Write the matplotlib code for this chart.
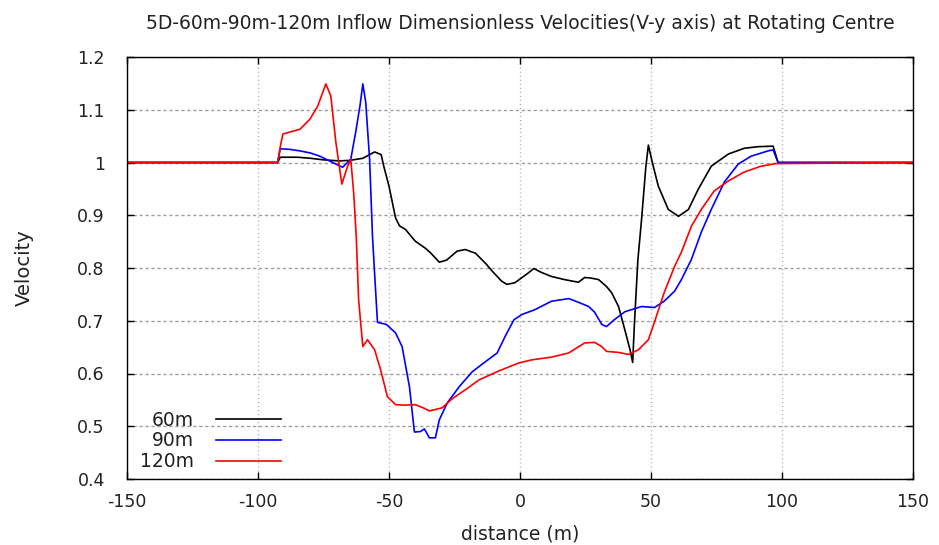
import matplotlib
matplotlib.use("Agg")
import matplotlib.pyplot as plt

# 60 m hub height
x60 = [-150, -92.5, -91.5, -85, -80, -75, -69, -65, -60, -55.5, -53, -52, -50, -47.5,
       -46, -43.7, -40, -36, -34, -30.8, -28, -24, -20.9, -17, -13, -10.6, -7, -5,
       -2, 0.8, 3, 5.3, 8, 12, 17, 22.3, 24.7, 27, 30, 33, 35, 37.6, 40, 42, 43,
       43.7, 45, 46.4, 48, 49, 50.5, 52.8, 56.6, 60.5, 64.3, 68, 73, 79.5, 85.6,
       91, 96.6, 98.5, 150]
v60 = [1.0, 1.0, 1.010, 1.010, 1.008, 1.005, 1.003, 1.004, 1.008, 1.020, 1.015, 0.993,
       0.955, 0.895, 0.880, 0.873, 0.851, 0.837, 0.828, 0.811, 0.815, 0.832, 0.835,
       0.828, 0.808, 0.794, 0.775, 0.769, 0.772, 0.782, 0.790, 0.799, 0.792, 0.784,
       0.778, 0.773, 0.782, 0.781, 0.778, 0.765, 0.753, 0.727, 0.683, 0.645, 0.621,
       0.697, 0.816, 0.892, 0.990, 1.033, 1.000, 0.955, 0.911, 0.898, 0.911, 0.949,
       0.993, 1.016, 1.027, 1.030, 1.031, 1.0, 1.0]

# 90 m hub height
x90 = [-150, -92.5, -91.5, -88, -84, -80, -76.4, -71.5, -67.7, -64.6, -62.7, -61,
       -60, -58.9, -57.4, -56.3, -55.5, -54.4, -51, -47.5, -45, -42.2, -40.3, -38,
       -36.5, -34.6, -32.3, -30.8, -27.8, -23.2, -18.3, -13.3, -8.7, -5.7, -2.3,
       0.8, 5.7, 12, 18.6, 22.3, 26.2, 28.5, 31.2, 33, 36, 40, 46.4, 51.3, 55, 59,
       61.6, 65.4, 69.2, 73, 78, 83.3, 88.2, 94.7, 96.6, 98.5, 150]
v90 = [1.0, 1.0, 1.026, 1.025, 1.022, 1.018, 1.012, 1.000, 0.991, 1.006, 1.058, 1.110,
       1.149, 1.115, 1.006, 0.860, 0.790, 0.697, 0.693, 0.677, 0.651, 0.575, 0.489,
       0.490, 0.495, 0.478, 0.478, 0.512, 0.544, 0.575, 0.603, 0.622, 0.639, 0.670,
       0.702, 0.712, 0.721, 0.737, 0.742, 0.735, 0.727, 0.716, 0.693, 0.689, 0.702,
       0.717, 0.727, 0.725, 0.737, 0.756, 0.778, 0.816, 0.868, 0.911, 0.963, 0.997,
       1.012, 1.022, 1.024, 1.0, 1.0]

# 120 m hub height
x120 = [-150, -92.5, -91.5, -90.5, -84, -80.2, -77.2, -74.1, -72.2, -70.3, -68,
        -65.8, -64.6, -63.5, -62.5, -61.6, -60, -58.2, -55.5, -53.2, -50.6, -47.5,
        -44, -40, -37, -34.6, -29.7, -25.9, -20.9, -15.6, -8, -0.4, 4.6, 12, 18.6,
        24.7, 28.5, 31.2, 33, 37.6, 41.4, 45.2, 49, 51.3, 55, 59, 61.6, 65.4, 69.2,
        74.1, 79.5, 85.6, 92, 97.7, 150]
v120 = [1.0, 1.0, 1.030, 1.054, 1.063, 1.082, 1.107, 1.149, 1.126, 1.039, 0.959,
        0.993, 1.006, 0.944, 0.860, 0.740, 0.651, 0.664, 0.645, 0.607, 0.556, 0.541,
        0.540, 0.541, 0.535, 0.529, 0.535, 0.552, 0.569, 0.588, 0.605, 0.620, 0.626,
        0.631, 0.639, 0.658, 0.659, 0.651, 0.642, 0.640, 0.636, 0.645, 0.664, 0.697,
        0.753, 0.803, 0.830, 0.879, 0.911, 0.946, 0.965, 0.982, 0.993, 0.998, 1.0]

xticks = [-150, -100, -50, 0, 50, 100, 150]
yticks = [0.4, 0.5, 0.6, 0.7, 0.8, 0.9, 1.0, 1.1, 1.2]
ytick_labels = ["0.4", "0.5", "0.6", "0.7", "0.8", "0.9", "1", "1.1", "1.2"]

plt.rcParams["font.family"] = ["DejaVu Sans"]
txt = "#222222"

fig = plt.figure(figsize=(9.39, 5.45), dpi=100)
ax = fig.add_axes([127 / 939, 66 / 545, 786 / 939, 422 / 545])

ax.plot(x60, v60, color="black", lw=1.2, label="60m")
ax.plot(x90, v90, color="#0000ff", lw=1.2, label="90m")
ax.plot(x120, v120, color="#ff0000", lw=1.2, label="120m")

ax.set_xlim(-150, 150)
ax.set_ylim(0.4, 1.2)
ax.set_xticks(xticks)
ax.set_xticklabels([str(t) for t in xticks])
ax.set_yticks(yticks)
ax.set_yticklabels(ytick_labels)
ax.tick_params(direction="in", length=5, width=1, labelsize=12.5,
               labelcolor=txt, top=True, right=True)
ax.tick_params(axis="x", pad=10)
ax.tick_params(axis="y", pad=16)

# dotted grid: short dots on vertical lines, short dashes on horizontal ones
ax.xaxis.grid(True, color="#a0a0a0", linestyle=(0, (0.7, 2.2)), linewidth=1)
ax.yaxis.grid(True, color="#a0a0a0", linestyle=(0, (2.4, 1.9)), linewidth=1)
for s in ax.spines.values():
    s.set_linewidth(1)

ax.set_title("5D-60m-90m-120m Inflow Dimensionless Velocities(V-y axis) at Rotating Centre",
             fontsize=13.5, pad=20, color=txt)
ax.set_xlabel("distance (m)", fontsize=13.5, labelpad=10, color=txt)
ax.set_ylabel("Velocity", fontsize=14, labelpad=31, color=txt)

leg = ax.legend(loc="lower left", bbox_to_anchor=(0.0, -0.013), frameon=False,
                fontsize=13.5, markerfirst=False, handlelength=3.5,
                handletextpad=1.15, labelspacing=0.1, borderaxespad=0.3)
for t in leg.get_texts():
    t.set_ha("right")
    t.set_color(txt)
leg._legend_box.align = "right"

fig.savefig("out.png", dpi=100)
